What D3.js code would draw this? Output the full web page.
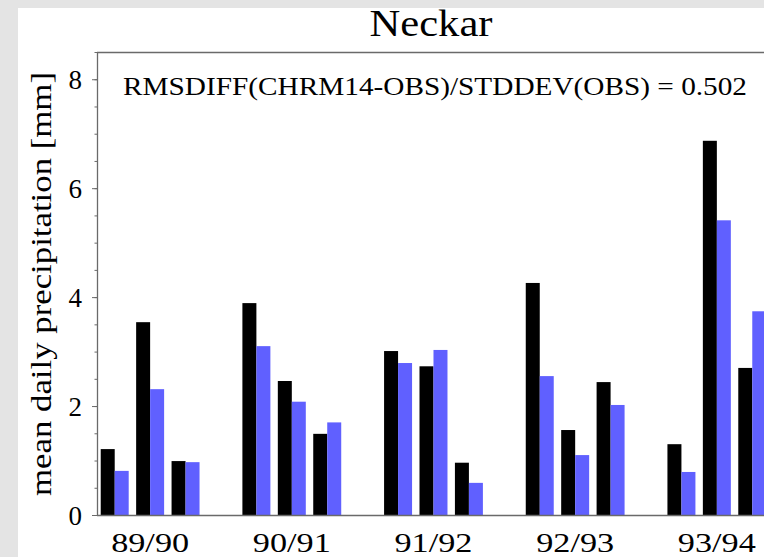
<!DOCTYPE html>
<html>
<head>
<meta charset="utf-8">
<script src="https://cdn.jsdelivr.net/npm/d3@7"></script>
<style>
  html, body { margin: 0; padding: 0; background: #e4e4e4; }
  svg { display: block; }
  text { font-family: "Liberation Serif", "DejaVu Serif", serif; fill: #000; }
</style>
</head>
<body>
<script>
// Winter seasons shown along the x axis
const seasons = ["89/90", "90/91", "91/92", "92/93", "93/94"];
// Three periods per season, observed vs. CHRM14 model (mm/day)
const obsValues  = [1.21, 3.54, 0.99,  3.89, 2.46, 1.49,  3.01, 2.73, 0.96,  4.26, 1.56, 2.44,  1.30, 6.87, 2.70];
const chrmValues = [0.81, 2.31, 0.97,  3.10, 2.08, 1.70,  2.79, 3.03, 0.59,  2.55, 1.10, 2.02,  0.79, 5.41, 3.74];
const yMajorTicks = [0, 2, 4, 6, 8];
const seriesNames = ["OBS", "CHRM14"];
const titleText = "Neckar";
const scoreText = "RMSDIFF(CHRM14-OBS)/STDDEV(OBS) = 0.502";
const yTitle = "mean daily precipitation [mm]";

const W = 764, H = 557;
const svg = d3.select("body").append("svg").attr("width", W).attr("height", H);

// grey page with white panel
svg.append("rect").attr("x", 0).attr("y", 0).attr("width", W).attr("height", H).attr("fill", "#e4e4e4");
svg.append("rect").attr("x", 18).attr("y", 8).attr("width", W - 18).attr("height", H - 8).attr("fill", "#ffffff");

const plotLeft = 97, plotTop = 52, plotBottom = 515;
const periodsPerSeason = 3, slotsPerSeason = 4;
const slotStep = 35.42;
const nSlots = seasons.length * slotsPerSeason;

// each season occupies 4 slots: 3 bar pairs + 1 empty gap
const x = d3.scaleBand()
  .domain(d3.range(nSlots))
  .range([plotLeft, plotLeft + nSlots * slotStep])
  .paddingInner(0.21)
  .paddingOuter(0.105);
const xSeries = d3.scaleBand().domain(seriesNames).range([0, x.bandwidth()]);
const color = d3.scaleOrdinal().domain(seriesNames).range(["#000000", "#6060ff"]);

const y = d3.scaleLinear().domain([0, 8.5]).range([plotBottom, plotTop]);

const rows = [];
seasons.forEach((s, si) => {
  for (let p = 0; p < periodsPerSeason; p++) {
    const k = si * periodsPerSeason + p;
    rows.push({ slot: si * slotsPerSeason + p, series: "OBS", value: obsValues[k] });
    rows.push({ slot: si * slotsPerSeason + p, series: "CHRM14", value: chrmValues[k] });
  }
});

svg.append("g").selectAll("rect").data(rows).join("rect")
  .attr("x", d => x(d.slot) + xSeries(d.series))
  .attr("width", xSeries.bandwidth())
  .attr("y", d => y(d.value))
  .attr("height", d => y(0) - y(d.value))
  .attr("fill", d => color(d.series));

const axisColor = "#6a6a6a";
const fontStack = '"Liberation Serif", "DejaVu Serif", serif';

// top frame line
svg.append("line").attr("x1", plotLeft).attr("x2", W).attr("y1", plotTop + 0.5).attr("y2", plotTop + 0.5)
  .attr("stroke", axisColor).attr("stroke-width", 1.3);

// y axis: minor ticks every 0.5, labelled major ticks every 2
const yMinor = svg.append("g").attr("transform", `translate(${plotLeft},0)`)
  .call(d3.axisLeft(y).tickValues(d3.range(0, 8.51, 0.5)).tickSize(2.5).tickFormat(""));
yMinor.select(".domain").remove();
yMinor.selectAll(".tick line").attr("stroke", axisColor);

const yAxis = svg.append("g").attr("transform", `translate(${plotLeft},0)`)
  .call(d3.axisLeft(y).tickValues(yMajorTicks).tickSize(5).tickSizeOuter(0).tickPadding(10).tickFormat(d3.format("d")));
yAxis.select(".domain").attr("stroke", axisColor).attr("stroke-width", 1.3);
yAxis.selectAll(".tick line").attr("stroke", axisColor);
yAxis.selectAll(".tick text").attr("font-size", 27).attr("dy", "0.34em")
  .style("font-family", fontStack);

// x axis with season labels under the middle pair of each season
const xAxis = svg.append("g").attr("transform", `translate(0,${plotBottom})`)
  .call(d3.axisBottom(x)
    .tickValues(seasons.map((s, i) => i * slotsPerSeason + 1))
    .tickSize(0).tickPadding(18)
    .tickFormat(d => seasons[Math.floor(d / slotsPerSeason)]));
xAxis.select(".domain").remove();
xAxis.selectAll(".tick text").attr("font-size", 27).attr("dy", "0.71em")
  .attr("textLength", 78).attr("lengthAdjust", "spacingAndGlyphs")
  .style("font-family", fontStack);
svg.append("line").attr("x1", plotLeft).attr("x2", W).attr("y1", plotBottom + 0.5).attr("y2", plotBottom + 0.5)
  .attr("stroke", axisColor).attr("stroke-width", 1.3);

// titles
svg.append("text").attr("x", 431).attr("y", 36).attr("text-anchor", "middle")
  .attr("font-size", 37).attr("textLength", 123).attr("lengthAdjust", "spacingAndGlyphs")
  .text(titleText);

svg.append("text").attr("x", 123).attr("y", 95)
  .attr("font-size", 26).attr("textLength", 624).attr("lengthAdjust", "spacingAndGlyphs")
  .text(scoreText);

svg.append("text").attr("transform", "translate(51,284) rotate(-90)").attr("text-anchor", "middle")
  .attr("font-size", 29).attr("textLength", 424).attr("lengthAdjust", "spacingAndGlyphs")
  .text(yTitle);
</script>
</body>
</html>
